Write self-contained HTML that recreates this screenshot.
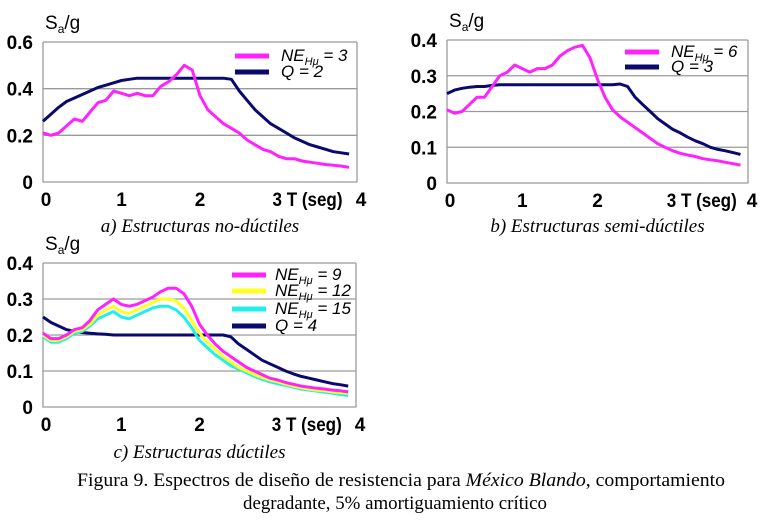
<!DOCTYPE html>
<html><head><meta charset="utf-8"><style>
html,body{margin:0;padding:0;background:#fff;}
svg{display:block;font-family:"Liberation Sans",sans-serif;}
.tick{font-size:19px;font-weight:bold;fill:#000;}
.leg{font-size:17px;font-style:italic;fill:#000;}
.sub{font-size:19px;font-style:italic;font-family:"Liberation Serif",serif;}
.cap{font-size:19px;font-family:"Liberation Serif",serif;}
</style></head><body>
<svg id="svg" width="768" height="529" viewBox="0 0 768 529"></svg>
<script>
const T=[0,0.1,0.2,0.3,0.4,0.5,0.6,0.7,0.8,0.9,1.0,1.1,1.2,1.3,1.4,1.5,1.6,1.7,1.8,1.9,2.0,2.1,2.2,2.3,2.4,2.5,2.6,2.7,2.8,2.9,3.0,3.1,3.2,3.3,3.4,3.5,3.6,3.7,3.8,3.9];
const xTicks=["0","1","2","3 T (seg)","4"];
const aNE3=[0.21,0.20,0.21,0.24,0.27,0.26,0.30,0.34,0.35,0.39,0.38,0.37,0.38,0.37,0.37,0.41,0.43,0.46,0.50,0.48,0.37,0.31,0.28,0.25,0.23,0.21,0.18,0.16,0.14,0.13,0.11,0.10,0.10,0.09,0.085,0.08,0.075,0.072,0.068,0.063];
const aQ2=[0.26,0.29,0.32,0.345,0.36,0.375,0.39,0.405,0.415,0.425,0.435,0.44,0.445,0.445,0.445,0.445,0.445,0.445,0.445,0.445,0.445,0.445,0.445,0.445,0.44,0.39,0.35,0.31,0.28,0.25,0.23,0.21,0.19,0.175,0.16,0.15,0.14,0.13,0.125,0.12];
const bNE6=[0.205,0.195,0.20,0.22,0.24,0.24,0.27,0.30,0.31,0.33,0.32,0.31,0.32,0.32,0.33,0.355,0.37,0.38,0.385,0.35,0.29,0.24,0.205,0.185,0.17,0.155,0.14,0.125,0.11,0.10,0.09,0.083,0.078,0.074,0.068,0.065,0.062,0.058,0.054,0.05];
const bQ3=[0.25,0.26,0.265,0.268,0.27,0.27,0.273,0.275,0.275,0.275,0.275,0.275,0.275,0.275,0.275,0.275,0.275,0.275,0.275,0.275,0.275,0.275,0.275,0.277,0.27,0.24,0.22,0.20,0.18,0.165,0.15,0.14,0.128,0.118,0.11,0.10,0.094,0.09,0.085,0.08];
const cNE9=[0.205,0.19,0.19,0.20,0.215,0.22,0.24,0.27,0.285,0.30,0.285,0.28,0.285,0.295,0.305,0.32,0.33,0.33,0.315,0.28,0.23,0.20,0.175,0.155,0.14,0.125,0.11,0.10,0.09,0.08,0.075,0.068,0.063,0.058,0.055,0.052,0.05,0.047,0.045,0.042];
const cNE12=[0.20,0.185,0.185,0.195,0.21,0.215,0.23,0.255,0.27,0.28,0.265,0.26,0.27,0.28,0.29,0.30,0.30,0.295,0.275,0.24,0.205,0.18,0.16,0.14,0.125,0.11,0.10,0.09,0.082,0.075,0.07,0.064,0.058,0.054,0.05,0.047,0.045,0.042,0.04,0.038];
const cNE15=[0.195,0.18,0.18,0.19,0.205,0.21,0.225,0.245,0.255,0.265,0.25,0.245,0.255,0.265,0.275,0.28,0.28,0.27,0.25,0.22,0.185,0.165,0.145,0.13,0.115,0.105,0.095,0.085,0.077,0.07,0.065,0.06,0.055,0.05,0.047,0.044,0.041,0.038,0.035,0.032];
const cQ4=[0.25,0.235,0.225,0.215,0.21,0.207,0.205,0.203,0.202,0.2,0.2,0.2,0.2,0.2,0.2,0.2,0.2,0.2,0.2,0.2,0.2,0.2,0.2,0.2,0.195,0.175,0.16,0.145,0.13,0.12,0.11,0.10,0.092,0.085,0.08,0.075,0.07,0.065,0.062,0.058];
const aYTicks=[0,0.2,0.4,0.6], bYTicks=[0,0.1,0.2,0.3,0.4], cYTicks=[0,0.1,0.2,0.3,0.4];

const NS="http://www.w3.org/2000/svg";
const svg=document.getElementById('svg');
function mk(tag,attrs,parent){const e=document.createElementNS(NS,tag);for(const k in attrs)e.setAttribute(k,attrs[k]);(parent||svg).appendChild(e);return e;}

function chart(id,x0,x4,yTop,yBot,yTicks,series,legend,title,subY,legX,legTextX){
  const g=mk('g',{});
  
  
  const yMax=yTicks[yTicks.length-1];
  const sx=t=>x0+(x4-x0)*t/4, sy=v=>yBot-(yBot-yTop)*v/yMax;
  yTicks.forEach(v=>{
    if(v>0){const l=mk('line',{x1:x0,x2:x4,y1:sy(v),y2:sy(v),stroke:'#9a9a9a','stroke-width':1.3},g);
    }
    const t=mk('text',{x:x0-10,y:sy(v)+7,'text-anchor':'end',class:'tick'},g);
    
    t.textContent=String(v);
  });
  const ax=mk('path',{d:`M${x0},${yTop} V${yBot} H${x4} V${yTop}`,fill:'none',stroke:'#9a9a9a','stroke-width':1.3},g);
  
  xTicks.forEach((s,i)=>{
    const t=mk('text',{x:sx(i)+(i==0?3:0)+(i==4?4:0),y:yBot+24,'text-anchor':i==3?'start':'middle',class:'tick'},g);
    if(i==3){t.setAttribute('x',sx(3)-6);t.setAttribute('textLength',70);t.setAttribute('lengthAdjust','spacingAndGlyphs');}
    
    t.textContent=s;
  });
  const yl=mk('text',{x:x0+2,y:yTop-13,style:'font-size:19px'},g);
  
  yl.innerHTML='S<tspan dy="4" style="font-size:12px">a</tspan><tspan dy="-4">/g</tspan>';
  series.forEach(s=>{
    const d=s.v.map((v,i)=>(i?'L':'M')+sx(T[i]).toFixed(1)+','+sy(v).toFixed(1)).join(' ');
    const p=mk('path',{d,fill:'none',stroke:s.c,'stroke-width':3,'stroke-linejoin':'round'},g);
    
  });
  legend.forEach(L=>{
    const e=mk('g',{},g);
    
    mk('line',{x1:legX,x2:legX+34,y1:L.y,y2:L.y,stroke:L.c,'stroke-width':5},e);
    const t=mk('text',{x:legTextX,y:L.y+5,class:'leg'},e);
    t.innerHTML=L.ne?`NE<tspan dy="4" style="font-size:11px">Hμ</tspan><tspan dy="-4"> = ${L.t}</tspan>`:`Q = ${L.t}`;
  });
  const st=mk('text',{x:(x0+x4)/2,y:subY,'text-anchor':'middle',class:'sub'},g);
  
  st.textContent=title;
}
const M='#ff22ff',N='#0a0a6e';
chart('chart-a',43,357,42,182,aYTicks,[{v:aQ2,c:N,n:'line-q2'},{v:aNE3,c:M,n:'line-ne3'}],
  [{y:56,c:M,ne:1,t:3},{y:72,c:N,t:2}],'a) Estructuras no-dúctiles',232,235,281);
chart('chart-b',447,748,40,183,bYTicks,[{v:bQ3,c:N,n:'line-q3'},{v:bNE6,c:M,n:'line-ne6'}],
  [{y:52,c:M,ne:1,t:6},{y:67,c:N,t:3}],'b) Estructuras semi-dúctiles',232,625,671);
chart('chart-c',43,356,263,407,cYTicks,[{v:cQ4,c:N,n:'line-q4'},{v:cNE15,c:'#22eeee',n:'line-ne15'},{v:cNE12,c:'#ffff22',n:'line-ne12'},{v:cNE9,c:M,n:'line-ne9'}],
  [{y:275,c:M,ne:1,t:9},{y:291,c:'#ffff22',ne:1,t:12},{y:309,c:'#22eeee',ne:1,t:15},{y:326,c:N,t:4}],'c) Estructuras dúctiles',458,232,275);
const c1=mk('text',{x:77,y:486,class:'cap',textLength:648,lengthAdjust:'spacingAndGlyphs'});

c1.innerHTML='Figura 9.  Espectros de diseño de resistencia para <tspan font-style="italic">México Blando</tspan>, comportamiento';
const c2=mk('text',{x:243,y:509,class:'cap',textLength:304,lengthAdjust:'spacingAndGlyphs'});

c2.textContent='degradante, 5% amortiguamiento crítico';
</script>
</body></html>
